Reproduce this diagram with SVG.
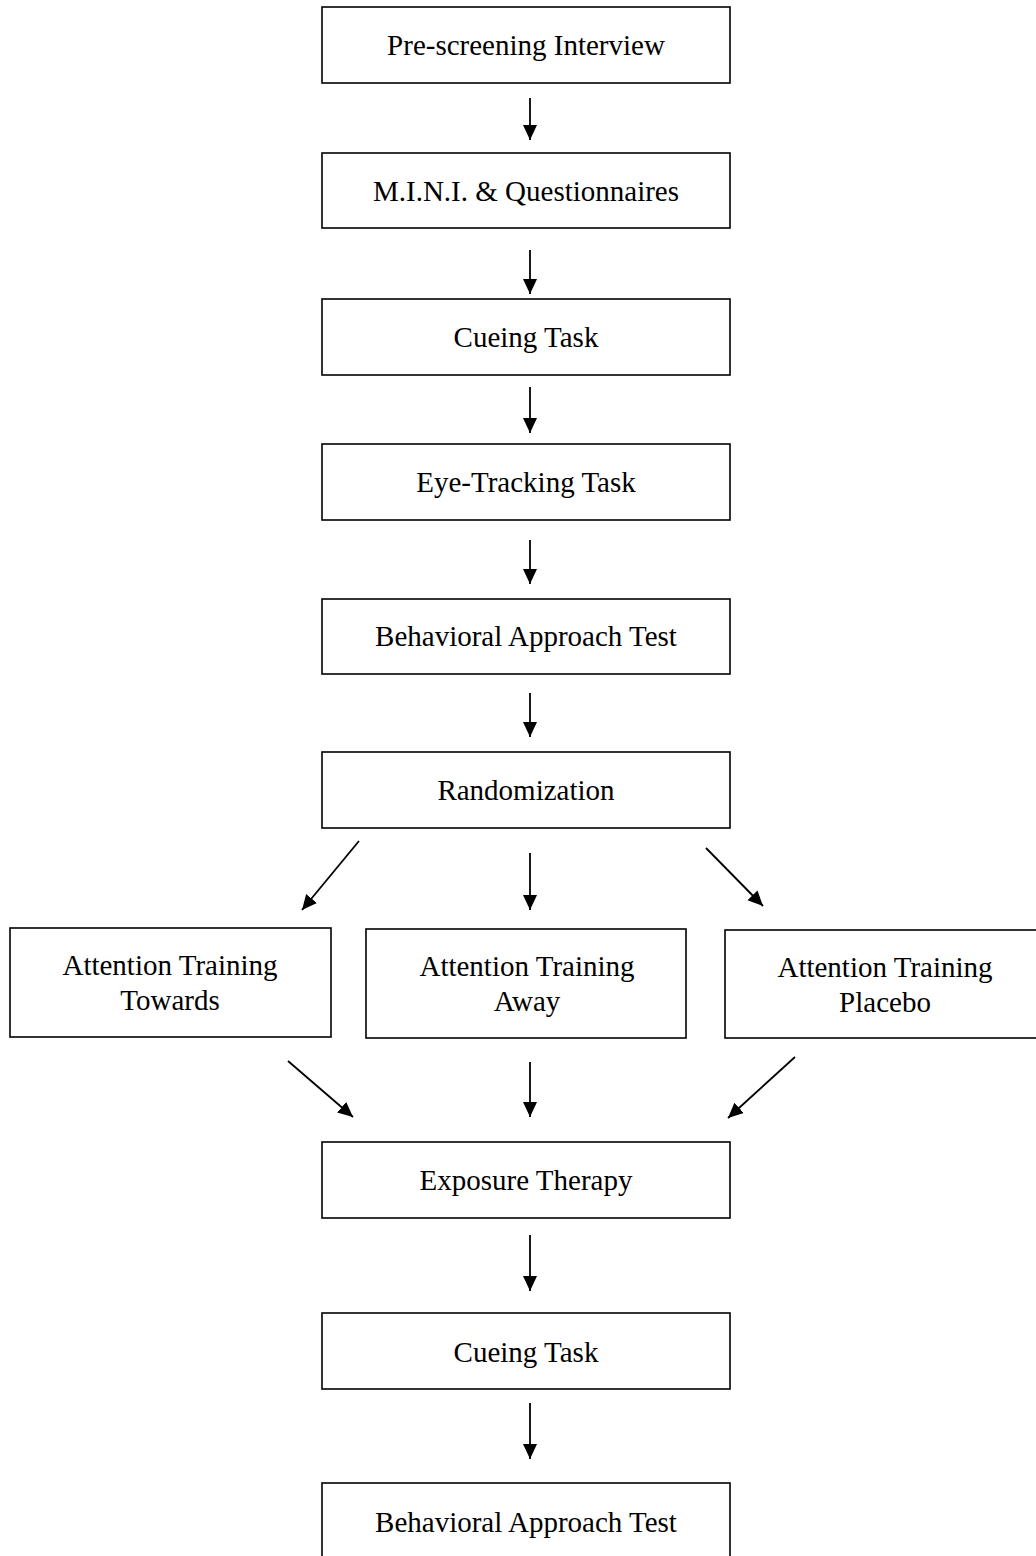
<svg xmlns="http://www.w3.org/2000/svg" width="1036" height="1556" viewBox="0 0 1036 1556">
<style>
.box{fill:#fff;stroke:#000;stroke-width:1.6}
.t{font-family:"Liberation Serif","Times New Roman",serif;font-size:29px;fill:#000;text-anchor:middle}
.c{stroke:#000;stroke-width:1.8;fill:none}
</style>
<defs>
<marker id="ah" markerUnits="userSpaceOnUse" markerWidth="16" markerHeight="16" refX="15" refY="7" orient="auto" viewBox="0 0 16 14">
<path d="M0,0 L15,7 L0,14 z" fill="#000"/>
</marker>
</defs>
<rect width="1036" height="1556" fill="#fff"/>
<g id="n1"><rect class="box" x="322" y="7" width="408" height="76"/><text class="t" x="526" y="55">Pre-screening Interview</text></g>
<g id="n2"><rect class="box" x="322" y="153" width="408" height="75"/><text class="t" x="526" y="201">M.I.N.I. &amp; Questionnaires</text></g>
<g id="n3"><rect class="box" x="322" y="299" width="408" height="76"/><text class="t" x="526" y="347">Cueing Task</text></g>
<g id="n4"><rect class="box" x="322" y="444" width="408" height="76"/><text class="t" x="526" y="492">Eye-Tracking Task</text></g>
<g id="n5"><rect class="box" x="322" y="599" width="408" height="75"/><text class="t" x="526" y="646">Behavioral Approach Test</text></g>
<g id="n6"><rect class="box" x="322" y="752" width="408" height="76"/><text class="t" x="526" y="800">Randomization</text></g>
<g id="n7"><rect class="box" x="10" y="928" width="321" height="109"/><text class="t" x="170" y="975">Attention Training</text><text class="t" x="170" y="1010">Towards</text></g>
<g id="n8"><rect class="box" x="366" y="929" width="320" height="109"/><text class="t" x="527" y="976">Attention Training</text><text class="t" x="527" y="1011">Away</text></g>
<g id="n9"><rect class="box" x="725" y="930" width="320" height="108"/><text class="t" x="885" y="977">Attention Training</text><text class="t" x="885" y="1012">Placebo</text></g>
<g id="n10"><rect class="box" x="322" y="1142" width="408" height="76"/><text class="t" x="526" y="1190">Exposure Therapy</text></g>
<g id="n11"><rect class="box" x="322" y="1313" width="408" height="76"/><text class="t" x="526" y="1362">Cueing Task</text></g>
<g id="n12"><rect class="box" x="322" y="1483" width="408" height="80"/><text class="t" x="526" y="1532">Behavioral Approach Test</text></g>
<g id="connectors">
<line class="c" x1="530" y1="98" x2="530" y2="140" marker-end="url(#ah)"/>
<line class="c" x1="530" y1="250" x2="530" y2="294" marker-end="url(#ah)"/>
<line class="c" x1="530" y1="387" x2="530" y2="433" marker-end="url(#ah)"/>
<line class="c" x1="530" y1="540" x2="530" y2="584" marker-end="url(#ah)"/>
<line class="c" x1="530" y1="693" x2="530" y2="737" marker-end="url(#ah)"/>
<line class="c" x1="359" y1="841" x2="302" y2="910" marker-end="url(#ah)"/>
<line class="c" x1="530" y1="853" x2="530" y2="910" marker-end="url(#ah)"/>
<line class="c" x1="706" y1="848" x2="763" y2="906" marker-end="url(#ah)"/>
<line class="c" x1="288" y1="1061" x2="353" y2="1117" marker-end="url(#ah)"/>
<line class="c" x1="530" y1="1062" x2="530" y2="1117" marker-end="url(#ah)"/>
<line class="c" x1="795" y1="1057" x2="728" y2="1118" marker-end="url(#ah)"/>
<line class="c" x1="530" y1="1235" x2="530" y2="1291" marker-end="url(#ah)"/>
<line class="c" x1="530" y1="1403" x2="530" y2="1459" marker-end="url(#ah)"/>
</g>
</svg>
